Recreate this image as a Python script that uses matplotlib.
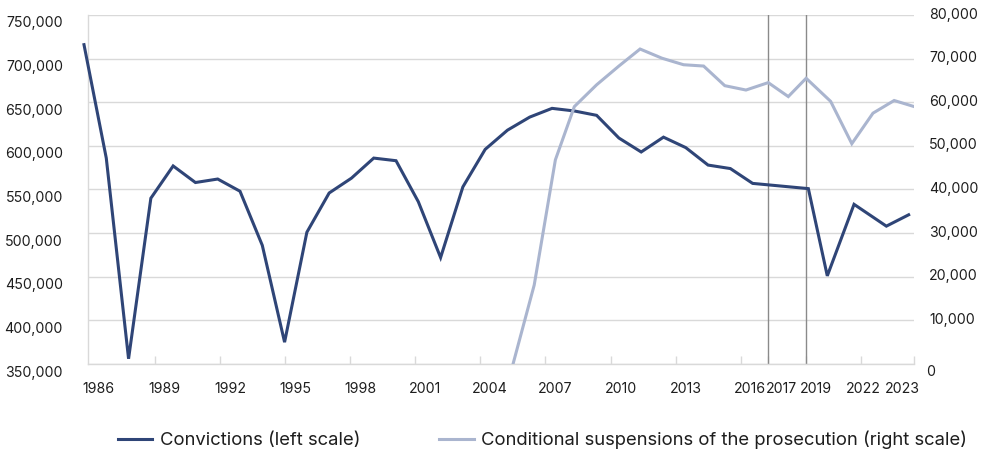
import matplotlib
matplotlib.use("Agg")
import matplotlib.pyplot as plt
from matplotlib.lines import Line2D
from matplotlib.ticker import FuncFormatter, FixedLocator
from matplotlib.transforms import ScaledTranslation

plt.rcParams['font.family'] = ['Inter', 'DejaVu Sans']

# ---- data ----
conv_years = list(range(1986, 2017)) + [2018.5, 2019.35, 2020.55, 2022.0, 2023.0]
convictions = [716000, 586000, 356000, 540000, 577000, 558000, 562000, 548000,
               486000, 375000, 501000, 546000, 563000, 586000, 583000, 536000,
               472000, 553000, 596000, 618000, 633000, 643000, 640000, 635000,
               609000, 593000, 610000, 598000, 578000, 574000, 557000,
               551000, 451000, 533000, 508000, 521000]

susp_years = [2005.25, 2006.2, 2007.15, 2008.0, 2009.0, 2010.0, 2010.95, 2011.93,
              2012.9, 2013.8, 2014.75, 2015.7, 2016.7, 2017.6, 2018.4, 2019.5,
              2020.45, 2021.4, 2022.35, 2023.25]
suspensions = [0, 18100, 46800, 59000, 64000, 68300, 72200, 70100,
               68600, 68300, 63800, 62800, 64500, 61300, 65500, 60200,
               50500, 57500, 60400, 59000]

break_years = [2016.7, 2018.4]

xtick_labels = ['1986', '1989', '1992', '1995', '1998', '2001', '2004', '2007',
                '2010', '2013', '2016', '2017', '2019', '2022', '2023']
xlabel_pos = [1986.67, 1989.59, 1992.55, 1995.47, 1998.39, 2001.3, 2004.22, 2007.13,
              2010.09, 2013.0, 2015.87, 2017.31, 2018.84, 2020.95, 2022.74]
xtickmark_pos = [1989.19, 1992.1, 1995.02, 1997.93, 2000.85, 2003.77, 2006.68,
                 2009.64, 2012.55, 2015.47, 2016.7, 2018.39, 2020.84, 2023.24]

left_ticks = list(range(350000, 750001, 50000))
right_ticks = list(range(0, 80001, 10000))

series_names = ['Convictions (left scale)',
                'Conditional suspensions of the prosecution (right scale)']

# ---- styles ----
DARK = '#2f4577'
LIGHT = '#aab5cf'
GRID = '#d9d9d9'
TXT = '#1e1e1e'

W, H = 987, 455
fig = plt.figure(figsize=(W / 100, H / 100), dpi=100)
ax = fig.add_axes([88 / W, 1 - 364 / H, (914 - 88) / W, (364 - 15) / H])

ax.set_xlim(1986.18, 2023.24)
ax.set_ylim(350000, 750000)
ax.set_yticks(left_ticks)
ax.yaxis.set_major_formatter(FuncFormatter(lambda v, p: f'{v:,.0f}'))
ax.grid(axis='y', color=GRID, lw=1.0, zorder=0)
ax.set_axisbelow(True)
for s in ['top', 'right']:
    ax.spines[s].set_visible(False)
for s in ['left', 'bottom']:
    ax.spines[s].set_color(GRID)
    ax.spines[s].set_linewidth(1.0)

ax.tick_params(axis='y', length=0, pad=18, labelsize=10.2, labelcolor=TXT)
ax.xaxis.set_major_locator(FixedLocator(xlabel_pos))
ax.set_xticklabels(xtick_labels)
ax.xaxis.set_minor_locator(FixedLocator(xtickmark_pos))
ax.tick_params(axis='x', which='major', length=0, pad=13, labelsize=10.2, labelcolor=TXT)
ax.tick_params(axis='x', which='minor', direction='in', length=6, width=1, color=GRID)

off = ScaledTranslation(0, -7 / 100, fig.dpi_scale_trans)
for lbl in ax.get_yticklabels():
    lbl.set_transform(lbl.get_transform() + off)

for bx in break_years:
    ax.axvline(bx, color='#8a8a8a', lw=1.0, zorder=1)

ax.plot(conv_years, convictions, color=DARK, lw=2.2, zorder=3, clip_on=False,
        solid_joinstyle='miter')

ax2 = ax.twinx()
ax2.set_ylim(0, 80000)
ax2.set_yticks(right_ticks)
ax2.yaxis.set_major_formatter(FuncFormatter(lambda v, p: f'{v:,.0f}'))
for s in ax2.spines.values():
    s.set_visible(False)
ax2.tick_params(axis='y', length=0, pad=11, labelsize=10.2, labelcolor=TXT)
up = ScaledTranslation(0, 2 / 100, fig.dpi_scale_trans)
zero_off = ScaledTranslation(-3 / 100, -6 / 100, fig.dpi_scale_trans)
for i, lbl in enumerate(ax2.get_yticklabels()):
    lbl.set_transform(lbl.get_transform() + (zero_off if i == 0 else up))

ax2.plot(susp_years, suspensions, color=LIGHT, lw=2.2, zorder=3,
         solid_joinstyle='miter')

handles = [Line2D([], [], color=DARK, lw=2.2), Line2D([], [], color=LIGHT, lw=2.2)]
fig.legend(handles, series_names, loc='center left', bbox_to_anchor=(118 / W, 1 - 440 / H),
           ncol=2, frameon=False, fontsize=13.3, handlelength=1.85, handletextpad=0.4,
           columnspacing=4.3, borderpad=0, borderaxespad=0, labelcolor=TXT)

fig.savefig('out.png', dpi=100)
